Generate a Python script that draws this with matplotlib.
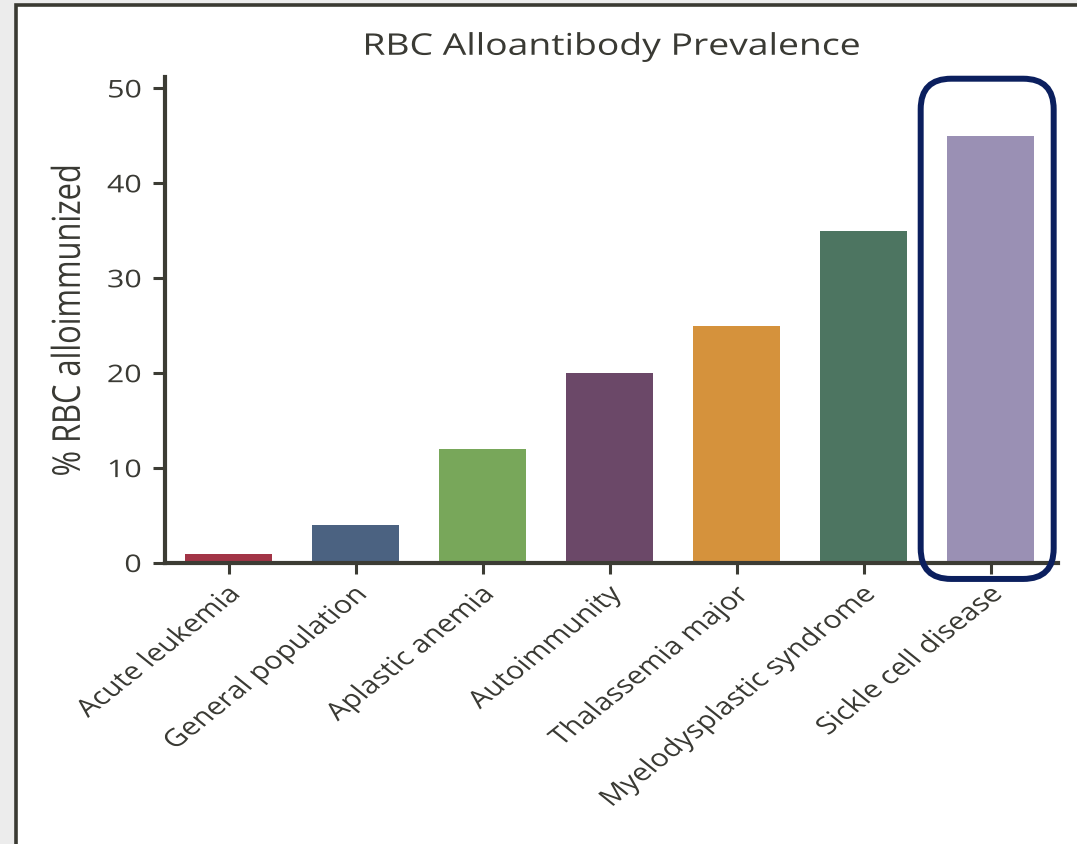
import matplotlib
matplotlib.use("Agg")
import matplotlib.pyplot as plt
from matplotlib.patches import FancyBboxPatch, Rectangle
from matplotlib.patheffects import AbstractPathEffect
from matplotlib.transforms import Affine2D
from matplotlib import font_manager

# Data
categories = ["Acute leukemia", "General population", "Aplastic anemia",
              "Autoimmunity", "Thalassemia major", "Myelodysplastic syndrome",
              "Sickle cell disease"]
values = [1, 4, 12, 20, 25, 35, 45]
colors = ["#a23446", "#4b6281", "#78a75a", "#6b4868", "#d5923c", "#4d7561", "#9a90b4"]
yticks = [0, 10, 20, 30, 40, 50]
highlight = "Sickle cell disease"


class HStretch(AbstractPathEffect):
    """Widen text horizontally about its left, centre or right edge."""

    def __init__(self, sx=1.25, anchor="center"):
        super().__init__()
        self.sx = sx
        self.anchor = anchor

    def draw_path(self, renderer, gc, tpath, affine, rgbFace=None):
        bb = tpath.get_extents(affine)
        x0 = {"left": bb.x0, "center": 0.5 * (bb.x0 + bb.x1), "right": bb.x1}[self.anchor]
        t = affine + Affine2D().translate(-x0, 0).scale(self.sx, 1).translate(x0, 0)
        renderer.draw_path(gc, tpath, t, rgbFace)


installed = {f.name for f in font_manager.fontManager.ttflist}
main_font = "Open Sans" if "Open Sans" in installed else "DejaVu Sans"

SX = 1.25
text_color = "#3a3a34"
spine_color = "#3c3c34"

W, H = 1077, 844
fig = plt.figure(figsize=(W / 100, H / 100), dpi=100)
fig.patch.set_facecolor("#ececec")

# White panel with dark frame on the top and left
panel = Rectangle((16 / W, -0.05), 1.2, 1 - 5 / H + 0.05, transform=fig.transFigure,
                  facecolor="white", edgecolor="#3a3a32", linewidth=2.6, zorder=-10)
fig.patches.append(panel)

ax = fig.add_axes([165 / W, 1 - 563 / H, (1058 - 165) / W, (563 - 77) / H])
ax.set_facecolor("none")

x = list(range(len(categories)))
ax.bar(x, values, width=0.685, color=colors, zorder=2)

ax.set_xlim(-0.5, 6.53)
ax.set_ylim(0, 51.2)
ax.set_yticks(yticks)
ax.set_xticks(x)
ax.set_xticklabels(categories, rotation=45, ha="right", rotation_mode="anchor",
                   fontsize=17.5, family=main_font, color=text_color)
for lbl in ax.get_xticklabels():
    lbl.set_path_effects([HStretch(SX, "right")])
for lbl in ax.get_yticklabels():
    lbl.set_fontsize(17.5)
    lbl.set_family(main_font)
    lbl.set_color(text_color)
    lbl.set_path_effects([HStretch(SX, "right")])

for s in ["top", "right"]:
    ax.spines[s].set_visible(False)
for s in ["left", "bottom"]:
    ax.spines[s].set_linewidth(3)
    ax.spines[s].set_color(spine_color)

ax.tick_params(axis="y", length=9, width=2.2, color=spine_color, pad=8)
ax.tick_params(axis="x", length=8, width=2.2, color=spine_color, pad=6)

ax.set_ylabel("% RBC alloimmunized", fontsize=22.2, family=main_font,
              color=text_color, path_effects=[HStretch(SX, "center")])
ax.yaxis.set_label_coords(-(165 - 84) / (1058 - 165), 0.5)
ax.set_title("RBC Alloantibody Prevalence", fontsize=21.5, family=main_font,
             color=text_color, pad=16, path_effects=[HStretch(SX, "center")])

# Rounded frame around the highlighted category
hi = categories.index(highlight)
px_per_x = (1058 - 165) / (6.53 + 0.5)
px_per_y = (563 - 77) / 51.2
box = FancyBboxPatch((hi - 0.551, -1.68), 1.047, 52.7,
                     boxstyle="round,pad=0,rounding_size=0.24",
                     mutation_aspect=px_per_x / px_per_y,
                     facecolor="none", edgecolor="#0b1f5e", linewidth=4.3,
                     clip_on=False, zorder=3)
ax.add_patch(box)

fig.savefig("out.png", dpi=100, facecolor=fig.get_facecolor())
